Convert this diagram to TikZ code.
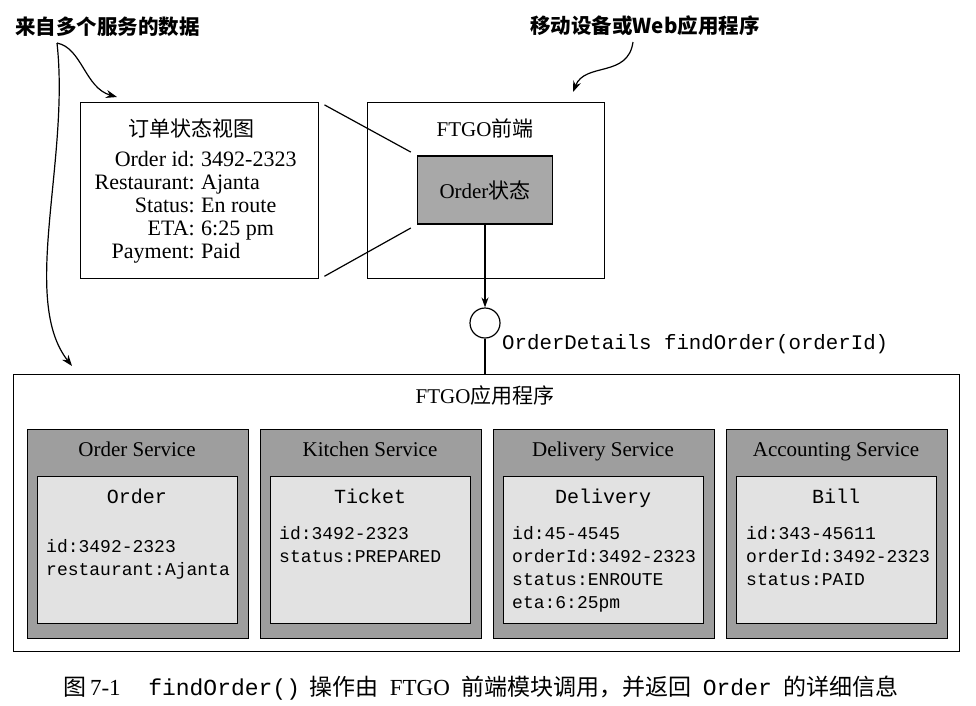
\documentclass[tikz,border=0pt]{standalone}
\usepackage{fontspec}
\setmainfont{Liberation Serif}
\setmonofont{Liberation Mono}
\newfontfamily\cjk{Noto Sans CJK SC}
\usetikzlibrary{arrows.meta}
\definecolor{stategray}{RGB}{168,168,168}
\definecolor{svcgray}{RGB}{158,158,158}
\definecolor{datagray}{RGB}{226,226,226}

\begin{document}
\begin{tikzpicture}[x=1pt, y=-1pt,
    every node/.style={inner sep=0pt, font=\fontsize{21}{25}\selectfont},
    plainbox/.style={draw, line width=1.2pt, fill=white, anchor=north west},
    svcbox/.style={draw, line width=1.2pt, fill=svcgray, anchor=north west, minimum width=221pt, minimum height=209pt},
    databox/.style={draw, line width=1.2pt, fill=datagray, anchor=north west, minimum width=200pt, minimum height=147pt},
    field/.style={font=\ttfamily\fontsize{18}{22}\selectfont, anchor=base west},
    objname/.style={font=\ttfamily\fontsize{20}{24}\selectfont, anchor=base},
    note/.style={font=\cjk\bfseries\fontsize{20.5}{24}\selectfont, anchor=west},
    notearrow/.style={line width=1.2pt, -{Stealth[length=11pt, width=8pt]}}]
  \fill[white] (0,0) rectangle (976,705);
  \useasboundingbox (0,0) rectangle (976,705);

  % notes on top
  \node[note] (datanote) at (15,27) {来自多个服务的数据};
  \node[note] (clientnote) at (530,26) {移动设备或Web应用程序};

  % order view
  \node[plainbox, minimum width=238pt, minimum height=176pt] (view) at (80,102) {};
  \node[anchor=base] (viewtitle) at (191,136) {\cjk 订单状态视图};
  \foreach \k/\v [count=\i from 0] in {Order id:/3492-2323, Restaurant:/Ajanta, Status:/En route, ETA:/6:25 pm, Payment:/Paid} {
    \node[anchor=base east, font=\fontsize{22}{26}\selectfont] (key\i) at (195,166+23*\i) {\k};
    \node[anchor=base west, font=\fontsize{22}{26}\selectfont] (val\i) at (201,166+23*\i) {\v};
  }

  % front end
  \node[plainbox, minimum width=237pt, minimum height=176pt] (front) at (367,102) {};
  \node[anchor=base] (fronttitle) at (485,136) {FTGO{\cjk 前端}};
  \node[draw, line width=1.2pt, fill=stategray, minimum width=135pt, minimum height=68pt] (state) at (485,190) {Order{\cjk 状态}};
  \draw[line width=1.2pt, shorten <=6pt, shorten >=7pt] (view.north east) -- (state.north west);
  \draw[line width=1.2pt, shorten <=6pt, shorten >=7pt] (view.south east) -- (state.south west);

  % application
  \node[plainbox, line width=1pt, minimum width=946pt, minimum height=277pt] (app) at (13,374) {};
  \node[anchor=base] (apptitle) at (485,403) {FTGO{\cjk 应用程序}};

  % interface
  \node[circle, draw, line width=1.2pt, minimum size=30pt, fill=white] (iface) at (485,323) {};
  \draw[line width=1.2pt, -{Stealth[length=10pt, width=7pt]}] (state) -- (iface);
  \draw[line width=1.2pt] (iface) -- (iface |- app.north);
  \node[font=\ttfamily\fontsize{20.75}{24}\selectfont, anchor=base west] (findorder) at (502,349) {OrderDetails findOrder(orderId)};

  % services
  \foreach \svc/\obj [count=\i from 0] in {Order Service/Order, Kitchen Service/Ticket, Delivery Service/Delivery, Accounting Service/Bill} {
    \node[svcbox] (svc\i) at (27+233*\i,429) {};
    \node[databox] (data\i) at (37+233*\i,476) {};
    \node[anchor=base] (svcname\i) at (137+233*\i,456) {\svc};
    \node[objname] (obj\i) at (137+233*\i,503) {\obj};
  }
  \foreach \f [count=\j from 0] in {id:3492-2323, restaurant:Ajanta}
    \node[field] (order\j) at (46,552+23*\j) {\f};
  \foreach \f [count=\j from 0] in {id:3492-2323, status:PREPARED}
    \node[field] (ticket\j) at (279,539+23*\j) {\f};
  \foreach \f [count=\j from 0] in {id:45-4545, orderId:3492-2323, status:ENROUTE, eta:6:25pm}
    \node[field] (delivery\j) at (512,539+23*\j) {\f};
  \foreach \f [count=\j from 0] in {id:343-45611, orderId:3492-2323, status:PAID}
    \node[field] (bill\j) at (746,539+23*\j) {\f};

  % curved pointers
  \coordinate (datasrc) at (57,43);
  \coordinate (viewtip) at (117,97);
  \coordinate (apptip) at (72,366);
  \coordinate (clientsrc) at (633,42);
  \coordinate (fronttip) at (573,92);
  \draw[notearrow] (datasrc) .. controls (82,48) and (85,88) .. (viewtip);
  \draw[notearrow] (datasrc) .. controls (70,160) and (20,300) .. (apptip);
  \draw[notearrow] (clientsrc) .. controls (628,78) and (585,62) .. (fronttip);

  % caption
  \node[anchor=west, font=\fontsize{23}{27}\selectfont] (caption) at (63,688)
    {{\cjk 图}\,7-1\hspace{1.2em}{\ttfamily findOrder()}\hspace{0.4em}{\cjk 操作由}\hspace{0.5em}FTGO\hspace{0.5em}{\cjk 前端模块调用，并返回}\hspace{0.5em}{\ttfamily Order}\hspace{0.5em}{\cjk 的详细信息}};
\end{tikzpicture}
\end{document}
